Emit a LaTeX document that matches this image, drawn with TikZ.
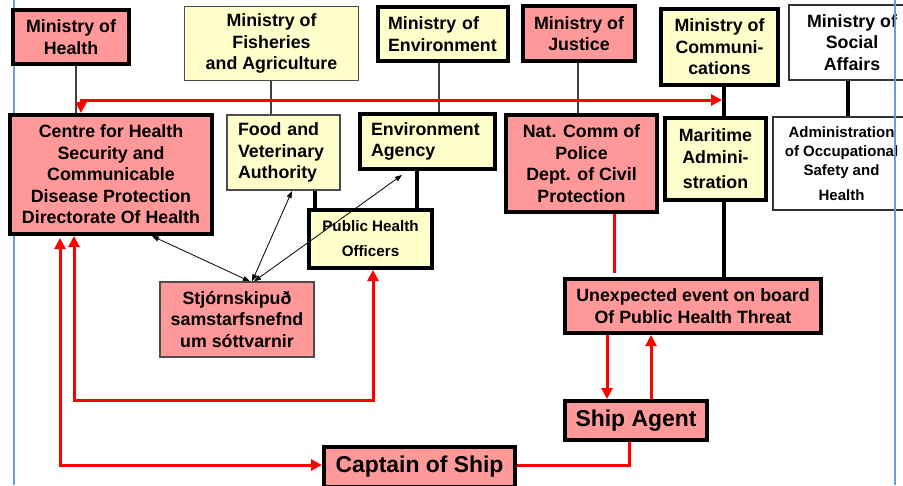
\documentclass[tikz,border=0pt]{standalone}
\usepackage{fontspec}
\setmainfont{Liberation Sans}
\usetikzlibrary{arrows.meta,calc}
\definecolor{pinkc}{HTML}{FF9999}
\definecolor{yelc}{HTML}{FFFFCC}
\definecolor{redc}{HTML}{FF0000}
\definecolor{bluec}{HTML}{6A9FD6}
\tikzset{
  rtip/.tip={Triangle[length=11pt,width=11pt]},
  ktip/.tip={Triangle[length=7pt,width=5pt]},
}
\begin{document}
\begin{tikzpicture}[x=1pt,y=-1pt,
  box/.style={rectangle, inner sep=0pt, align=center, font=\bfseries\fontsize{17.8}{21.5}\selectfont},
  thickb/.style={box, draw=black, line width=4pt},
  thinb/.style={box, draw=black!70, line width=1.2pt},
  pinkb/.style={fill=pinkc},
  yelb/.style={fill=yelc},
  whiteb/.style={fill=white},
  thinline/.style={draw=black!75, line width=1.2pt},
  thickline/.style={draw=black, line width=4pt},
  redline/.style={draw=redc, line width=3pt},
  blackarr/.style={draw=black, line width=0.8pt, arrows={ktip-ktip}},
  bigfont/.style={font=\bfseries\fontsize{22.9}{27}\selectfont},
]
\useasboundingbox (0,0) rectangle (903,485);
\fill[white] (0,0) rectangle (903,485);
% left slide border
\draw[bluec, line width=1.5pt] (14,0) -- (14,485);

% top row
\node[thickb,pinkb,minimum width=116pt,minimum height=54pt] (moh) at (71,37) {Ministry of\\Health};
\node[thinb,yelb,minimum width=174pt,minimum height=74pt] (fish) at (271.5,43.5) {Ministry of\\Fisheries\\and Agriculture};
\node[thickb,yelb,minimum width=130pt,minimum height=54pt,text width=110pt,align=left] (envmin) at (443,34) {Ministry of\\Environment};
\node[thickb,pinkb,minimum width=112pt,minimum height=55pt] (just) at (579,33.5) {Ministry of\\Justice};
\node[thickb,yelb,minimum width=117pt,minimum height=76pt] (comm) at (719.5,47) {Ministry of\\Communi-\\cations};
\node[thinb,whiteb,draw=black!80,minimum width=126pt,minimum height=75pt] (social) at (852,42.5) {Ministry of\\Social\\Affairs};

% second row
\node[thickb,pinkb,minimum width=202pt,minimum height=119pt] (centre) at (111,174.5) {Centre for Health\\Security and\\Communicable\\Disease Protection\\Directorate Of Health};
\node[thinb,yelb,minimum width=113pt,minimum height=75pt,text width=91pt,align=left] (food) at (283.5,152.5) {Food and\\Veterinary\\Authority};
\node[thickb,yelb,minimum width=135pt,minimum height=55pt,text width=113pt,align=left] (envag) at (427.5,141.5) {Environment\\Agency};
\node[thickb,pinkb,minimum width=151pt,minimum height=97pt] (police) at (581.5,163.5) {Nat. Comm of\\Police\\Dept. of Civil\\Protection};
\node[thickb,yelb,minimum width=101pt,minimum height=82pt] (marit) at (715.5,159) {Maritime\\Admini-\\[4pt]stration};
\node[thinb,whiteb,draw=black!80,minimum width=137pt,minimum height=93pt,font=\bfseries\fontsize{15}{19}\selectfont] (osh) at (841.5,163.5) {Administration\\of Occupational\\Safety and\\[6pt]Health};

% third row
\node[thickb,yelb,minimum width=123pt,minimum height=58pt,font=\bfseries\fontsize{15.2}{25}\selectfont] (pho) at (370.5,239) {Public Health\\Officers};
\node[thinb,pinkb,minimum width=154pt,minimum height=75pt] (stjorn) at (237,319.5) {Stjórnskipuð\\samstarfsnefnd\\um sóttvarnir};
\node[thickb,pinkb,minimum width=256pt,minimum height=54pt] (unexp) at (693,306) {Unexpected event on board\\Of Public Health Threat};
\node[thickb,pinkb,bigfont,minimum width=142pt,minimum height=39pt] (agent) at (636,420.5) {Ship Agent};
\node[thickb,pinkb,bigfont,minimum width=191pt,minimum height=40pt] (captain) at (419.5,467) {Captain of Ship};

% thin grey links
\draw[thinline] (76,0 |- moh.south) -- (76,0 |- centre.north);
\draw[thinline] (271,0 |- fish.south) -- (271,0 |- food.north);
\draw[thinline] (439,0 |- envmin.south) -- (439,0 |- envag.north);
\draw[thinline] (578,0 |- just.south) -- (578,0 |- police.north);

% thick black links
\draw[thickline] (724,0 |- comm.south) -- (724,0 |- marit.north);
\draw[thickline] (848,0 |- social.south) -- (848,0 |- osh.north);
\draw[thickline] (315,0 |- food.south) -- (315,0 |- pho.north);
\draw[thickline] (417,0 |- envag.south) -- (417,0 |- pho.north);
\draw[thickline] (724,0 |- marit.south) -- (724,0 |- unexp.north);

% thin black double arrows
\draw[blackarr] (152,0 |- centre.south) -- (250,0 |- stjorn.north);
\draw[blackarr] (292,191) -- (252,0 |- stjorn.north);
\draw[blackarr] (402,175) -- (254,0 |- stjorn.north);

% red connectors
\coordinate (commline) at (722,100);
\draw[redline, arrows={rtip-rtip}] (81,0 |- centre.north) -- (81,100) -- (commline);
\draw[redline, shorten >=4pt] (614,0 |- police.south) -- (614,0 |- unexp.north);
\draw[redline, arrows={rtip-rtip}] (74,0 |- centre.south) -- (74,400) -- (373,400) -- (373,0 |- pho.south);
\draw[redline, arrows={rtip-rtip}, shorten <=2pt] (60,0 |- centre.south) -- (60,465) -- (captain.west |- 0,465);
\draw[redline, arrows={-rtip}] (607,0 |- unexp.south) -- (607,0 |- agent.north);
\draw[redline, arrows={-rtip}] (651,0 |- agent.north) -- (651,0 |- unexp.south);
\draw[redline] (629,0 |- agent.south) -- (629,465) -- (captain.east |- 0,465);

% right slide border
\draw[bluec, line width=2pt] (894.5,0) -- (894.5,485);
\end{tikzpicture}
\end{document}
